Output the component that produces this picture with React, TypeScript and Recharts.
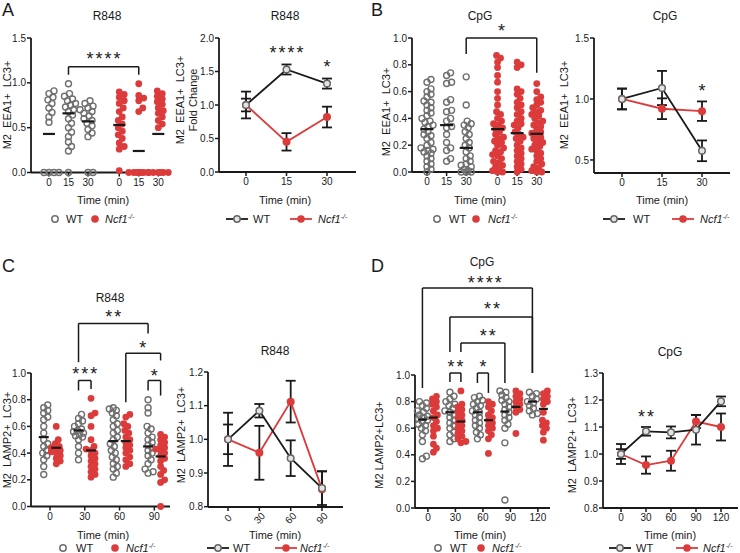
import React from 'react';
import { ScatterChart, Scatter, LineChart, Line, XAxis, YAxis, ErrorBar, ReferenceLine, ReferenceDot } from 'recharts';

const INK = '#1a1a1a';
const GREY = '#6f6f6f';
const RED = '#dc3b3b';
const FONT = "'Liberation Sans', Arial, sans-serif";

// ---- A: R848, EEA1+ LC3+ ----
const aTimes = ['0', '15', '30'];
const aWt0 = [0.91, 0.88, 0.84, 0.81, 0.77, 0.72, 0.67, 0.62, 0.56, 0, 0, 0, 0];
const aWt15 = [0.99, 0.88, 0.85, 0.82, 0.8, 0.77, 0.75, 0.73, 0.7, 0.68, 0.64, 0.6, 0.55, 0.5, 0.45, 0.4, 0.34, 0.29, 0.24, 0];
const aWt30 = [0.8, 0.77, 0.74, 0.72, 0.7, 0.68, 0.66, 0.63, 0.6, 0.58, 0.55, 0.52, 0.48, 0.44, 0.4, 0, 0];
const aKo0 = [0.9, 0.87, 0.84, 0.8, 0.77, 0.72, 0.68, 0.62, 0.58, 0.54, 0.5, 0.46, 0.42, 0.38, 0.33, 0.29, 0.26, 0.02];
const aKo15 = [0.99, 0.86, 0.83, 0.8, 0.72, 0.68, 0, 0, 0, 0, 0, 0, 0];
const aKo30 = [0.91, 0.88, 0.85, 0.82, 0.79, 0.76, 0.72, 0.69, 0.66, 0.62, 0.58, 0.54, 0.5, 0, 0, 0, 0, 0, 0];
const aWtMean = [0.43, 0.66, 0.57];
const aKoMean = [0.53, 0.24, 0.43];
const aFoldWt = [1.0, 1.53, 1.32];
const aFoldWtErr = [0.095, 0.075, 0.075];
const aFoldKo = [1.0, 0.45, 0.82];
const aFoldKoErr = [0.2, 0.13, 0.155];

// ---- B: CpG, EEA1+ LC3+ ----
const bTimes = ['0', '15', '30'];
const bWt0 = [0.69, 0.67, 0.62, 0.6, 0.58, 0.56, 0.53, 0.52, 0.5, 0.48, 0.46, 0.44, 0.42, 0.4, 0.38, 0.37, 0.35, 0.34, 0.32, 0.3, 0.28, 0.27, 0.25, 0.22, 0.2, 0.18, 0.17, 0.16, 0.15, 0.14, 0.12, 0.1, 0.08, 0.06, 0.04, 0.02, 0];
const bWt15 = [0.74, 0.72, 0.67, 0.66, 0.54, 0.52, 0.46, 0.45, 0.4, 0.38, 0.34, 0.33, 0.28, 0.22, 0.18, 0.16, 0.1, 0.08];
const bWt30 = [0.71, 0.5, 0.38, 0.36, 0.35, 0.33, 0.3, 0.28, 0.25, 0.22, 0.2, 0.18, 0.15, 0.12, 0.1, 0.08, 0.06, 0.05, 0.04, 0.02, 0.01, 0, 0, 0];
const bKo0 = [0.87, 0.85, 0.82, 0.78, 0.72, 0.67, 0.6, 0.55, 0.5, 0.45, 0.43, 0.4, 0.38, 0.36, 0.35, 0.33, 0.32, 0.3, 0.28, 0.26, 0.25, 0.23, 0.22, 0.2, 0.18, 0.16, 0.15, 0.13, 0.12, 0.1, 0.08, 0.07, 0.05, 0.04, 0.02, 0.01, 0, 0];
const bKo15 = [0.82, 0.8, 0.78, 0.62, 0.6, 0.58, 0.55, 0.52, 0.5, 0.48, 0.45, 0.43, 0.4, 0.38, 0.36, 0.35, 0.33, 0.3, 0.28, 0.26, 0.25, 0.23, 0.2, 0.18, 0.16, 0.14, 0.12, 0.1, 0.08, 0.06, 0.04, 0.02, 0];
const bKo30 = [0.66, 0.6, 0.56, 0.54, 0.52, 0.5, 0.48, 0.46, 0.45, 0.43, 0.42, 0.4, 0.38, 0.37, 0.35, 0.34, 0.32, 0.3, 0.29, 0.28, 0.26, 0.25, 0.23, 0.22, 0.2, 0.19, 0.17, 0.16, 0.14, 0.12, 0.1, 0.08, 0.06, 0.04, 0.03, 0.01, 0, 0];
const bWtMean = [0.32, 0.35, 0.18];
const bKoMean = [0.32, 0.29, 0.285];
const bFoldWt = [1.0, 1.09, 0.575];
const bFoldWtErr = [0.085, 0.14, 0.085];
const bFoldKo = [1.0, 0.92, 0.9];
const bFoldKoErr = [0.085, 0.085, 0.08];

// ---- C: R848, LAMP2+ LC3+ ----
const cTimes = ['0', '30', '60', '90'];
const cWt0 = [0.76, 0.74, 0.72, 0.7, 0.67, 0.65, 0.6, 0.55, 0.5, 0.47, 0.45, 0.42, 0.4, 0.38, 0.35, 0.3, 0.24];
const cWt30 = [0.69, 0.66, 0.64, 0.62, 0.6, 0.58, 0.57, 0.56, 0.55, 0.54, 0.53, 0.52, 0.5, 0.45, 0.4, 0.35];
const cWt60 = [0.74, 0.73, 0.72, 0.7, 0.68, 0.65, 0.62, 0.6, 0.57, 0.55, 0.52, 0.5, 0.47, 0.45, 0.42, 0.4, 0.37, 0.35, 0.32, 0.3, 0.28, 0.25, 0.22];
const cWt90 = [0.8, 0.74, 0.7, 0.6, 0.58, 0.55, 0.52, 0.5, 0.48, 0.46, 0.44, 0.42, 0.4, 0.38, 0.35, 0.32, 0.28, 0.26, 0.25];
const cKo0 = [0.6, 0.5, 0.47, 0.45, 0.44, 0.43, 0.42, 0.41, 0.4, 0.38, 0.36, 0.34, 0.32];
const cKo30 = [0.81, 0.7, 0.68, 0.6, 0.5, 0.45, 0.43, 0.42, 0.4, 0.38, 0.36, 0.34, 0.32, 0.3, 0.28, 0.26, 0.24, 0.22];
const cKo60 = [0.69, 0.67, 0.62, 0.6, 0.57, 0.55, 0.52, 0.5, 0.48, 0.46, 0.44, 0.42, 0.4, 0.37, 0.35, 0.32, 0.3];
const cKo90 = [0.54, 0.52, 0.5, 0.48, 0.46, 0.44, 0.43, 0.42, 0.4, 0.38, 0.36, 0.34, 0.3, 0.27, 0.24, 0.2, 0.18, 0];
const cWtMean = [0.52, 0.57, 0.49, 0.45];
const cKoMean = [0.44, 0.42, 0.49, 0.375];
const cFoldWt = [1.0, 1.085, 0.944, 0.855];
const cFoldWtErr = [0.044, 0.02, 0.053, 0.05];
const cFoldKo = [1.0, 0.96, 1.112, 0.852];
const cFoldKoErr = [0.079, 0.08, 0.062, 0.053];

// ---- D: CpG, LAMP2+ LC3+ ----
const dTimes = ['0', '30', '60', '90', '120'];
const dWt0 = [0.8, 0.79, 0.77, 0.75, 0.73, 0.72, 0.7, 0.69, 0.68, 0.67, 0.66, 0.65, 0.63, 0.62, 0.6, 0.58, 0.55, 0.5, 0.39, 0.37];
const dWt30 = [0.87, 0.84, 0.82, 0.8, 0.78, 0.77, 0.75, 0.73, 0.72, 0.7, 0.68, 0.66, 0.64, 0.62, 0.6, 0.57, 0.55, 0.52, 0.5];
const dWt60 = [0.84, 0.83, 0.81, 0.8, 0.78, 0.77, 0.75, 0.73, 0.72, 0.7, 0.68, 0.66, 0.64, 0.62, 0.6, 0.57, 0.55, 0.52];
const dWt90 = [0.88, 0.87, 0.85, 0.83, 0.81, 0.8, 0.78, 0.76, 0.74, 0.72, 0.7, 0.68, 0.66, 0.63, 0.6, 0.49, 0.06];
const dWt120 = [0.87, 0.86, 0.84, 0.82, 0.8, 0.79, 0.77, 0.75, 0.73, 0.71, 0.7];
const dKo0 = [0.84, 0.82, 0.8, 0.78, 0.76, 0.73, 0.7, 0.68, 0.65, 0.62, 0.6, 0.58, 0.54, 0.48, 0.45, 0.42];
const dKo30 = [0.88, 0.78, 0.76, 0.74, 0.72, 0.7, 0.68, 0.66, 0.64, 0.62, 0.6, 0.58, 0.56, 0.54, 0.52, 0.5, 0.49];
const dKo60 = [0.8, 0.78, 0.76, 0.73, 0.7, 0.68, 0.66, 0.64, 0.62, 0.6, 0.58, 0.55, 0.52, 0.41];
const dKo90 = [0.88, 0.86, 0.84, 0.82, 0.8, 0.78, 0.76, 0.74, 0.72, 0.56];
const dKo120 = [0.88, 0.86, 0.84, 0.82, 0.8, 0.78, 0.72, 0.66, 0.64, 0.62, 0.6, 0.57, 0.51];
const dWtMean = [0.665, 0.72, 0.72, 0.725, 0.8];
const dKoMean = [0.68, 0.65, 0.66, 0.76, 0.745];
const dFoldWt = [1.0, 1.084, 1.08, 1.09, 1.195];
const dFoldWtErr = [0.037, 0.016, 0.022, 0.055, 0.018];
const dFoldKo = [1.0, 0.959, 0.975, 1.12, 1.1];
const dFoldKoErr = [0.018, 0.032, 0.037, 0.024, 0.05];

type Box = { x0: number; x1: number; y0: number; y1: number };
type Seg = [number, number, number, number];
type Star = { x: number; y: number; text: string };
type Group = { x: number; vals: number[]; mean: number; ko: boolean };

const YW = 40;
const XH = 30;
const RM = 4;

const axisLine = { stroke: INK, strokeWidth: 1.8 };
const tickLine = { stroke: INK, strokeWidth: 1.5 };
const tickFont = { fontSize: 10, fill: INK };

function bracket(xa: number, xb: number, top: number, la: number, lb: number): Seg[] {
  return [[xa, la, xa, top], [xa, top, xb, top], [xb, top, xb, lb]];
}

// column scatter: pack points sideways (pixel space) so they don't pile up
function swarm(vals: number[], cx: number, pxX: number, pxY: number, d: number, maxW: number) {
  const placed: { o: number; py: number }[] = [];
  const cands = [0];
  for (let o = 1; o <= maxW; o++) cands.push(o, -o);
  return [...vals].sort((a, b) => a - b).map((v) => {
    const py = v * pxY;
    let best = 0;
    let bestD = -1;
    for (const o of cands) {
      let m = Infinity;
      for (const p of placed) m = Math.min(m, Math.hypot(p.o - o, p.py - py));
      if (m >= d) { best = o; break; }
      if (m > bestD) { bestD = m; best = o; }
    }
    placed.push({ o: best, py });
    return { x: cx + best / pxX, y: v };
  });
}

function frameOf(box: Box, top: number) {
  const w = box.x1 - box.x0;
  const h = box.y1 - box.y0;
  return {
    style: { position: 'absolute' as const, left: box.x0 - YW, top: box.y0 - top },
    width: w + YW + RM,
    height: h + top + XH,
    margin: { top, right: RM, bottom: 0, left: 0 },
  };
}

const starShape = (text: string) => (p: any) => (
  <text x={p.cx} y={p.cy + 10} dx={1} textAnchor="middle" fontSize={18} letterSpacing={2} fill={INK}>{text}</text>
);

type DotProps = {
  box: Box; top: number; xDomain: [number, number]; yDomain: [number, number]; yTicks: number[];
  xTicks: number[]; xLabels: string[]; groups: Group[]; segs: Seg[]; stars: Star[];
  r: number; d: number; maxW: number; hw: number;
};

function DotPanel(p: DotProps) {
  const f = frameOf(p.box, p.top);
  const pxX = (p.box.x1 - p.box.x0) / (p.xDomain[1] - p.xDomain[0]);
  const pxY = (p.box.y1 - p.box.y0) / (p.yDomain[1] - p.yDomain[0]);
  const wt = p.groups.filter((g) => !g.ko).flatMap((g) => swarm(g.vals, g.x, pxX, pxY, p.d, p.maxW));
  const ko = p.groups.filter((g) => g.ko).flatMap((g) => swarm(g.vals, g.x, pxX, pxY, p.d, p.maxW));
  const means = p.groups.map((g) => ({ x: g.x, y: g.mean }));
  return (
    <div style={f.style}>
      <ScatterChart width={f.width} height={f.height} margin={f.margin}>
        <XAxis type="number" dataKey="x" domain={p.xDomain} ticks={p.xTicks} interval={0} height={XH}
          tickFormatter={(v: number) => p.xLabels[p.xTicks.indexOf(v)]}
          axisLine={axisLine} tickLine={tickLine} tick={tickFont} tickSize={4} tickMargin={2} />
        <YAxis type="number" dataKey="y" domain={p.yDomain} ticks={p.yTicks} interval={0} width={YW}
          tickFormatter={(v: number) => v.toFixed(1)}
          axisLine={axisLine} tickLine={tickLine} tick={tickFont} tickSize={4} tickMargin={1} />
        {p.segs.map((s, i) => (
          <ReferenceLine key={'s' + i} segment={[{ x: s[0], y: s[1] }, { x: s[2], y: s[3] }]}
            stroke={INK} strokeWidth={1.5} ifOverflow="visible" />
        ))}
        <Scatter data={wt} isAnimationActive={false}
          shape={(q: any) => <circle cx={q.cx} cy={q.cy} r={p.r} fill="none" stroke={GREY} strokeWidth={1.4} />} />
        <Scatter data={ko} isAnimationActive={false}
          shape={(q: any) => <circle cx={q.cx} cy={q.cy} r={p.r + 0.4} fill={RED} />} />
        <Scatter data={means} isAnimationActive={false}
          shape={(q: any) => <line x1={q.cx - p.hw} x2={q.cx + p.hw} y1={q.cy} y2={q.cy} stroke={INK} strokeWidth={2.2} />} />
        {p.stars.map((s, i) => (
          <ReferenceDot key={'t' + i} x={s.x} y={s.y} r={1} ifOverflow="visible" shape={starShape(s.text)} />
        ))}
      </ScatterChart>
    </div>
  );
}

type LineProps = {
  box: Box; top: number; xDomain: [number, number]; yDomain: [number, number]; yTicks: number[];
  labels: string[]; wt: number[]; wtErr: number[]; ko: number[]; koErr: number[]; stars: Star[]; rotate?: boolean;
};

function LinePanel(p: LineProps) {
  const f = frameOf(p.box, p.top);
  const rows = p.labels.map((_, i) => ({ x: i, wt: p.wt[i], wtErr: p.wtErr[i], ko: p.ko[i], koErr: p.koErr[i] }));
  const xTicks = p.labels.map((_, i) => i);
  const rotTick = (q: any) => (
    <text x={q.x} y={q.y + 5} transform={`rotate(-45 ${q.x} ${q.y + 5})`} textAnchor="middle"
      dominantBaseline="central" fontSize={10} fill={INK}>{p.labels[q.payload.value]}</text>
  );
  return (
    <div style={f.style}>
      <LineChart width={f.width} height={f.height} margin={f.margin} data={rows}>
        <XAxis type="number" dataKey="x" domain={p.xDomain} ticks={xTicks} interval={0} height={XH}
          tickFormatter={(v: number) => p.labels[v]}
          axisLine={axisLine} tickLine={tickLine} tick={p.rotate ? rotTick : tickFont} tickSize={4} tickMargin={2} />
        <YAxis type="number" domain={p.yDomain} ticks={p.yTicks} interval={0} width={YW}
          tickFormatter={(v: number) => v.toFixed(1)}
          axisLine={axisLine} tickLine={tickLine} tick={tickFont} tickSize={4} tickMargin={1} />
        <Line dataKey="ko" stroke={RED} strokeWidth={1.8} isAnimationActive={false}
          dot={{ r: 4, fill: RED, stroke: RED, strokeWidth: 0 }} activeDot={false}>
          <ErrorBar dataKey="koErr" width={5} stroke={INK} strokeWidth={1.8} direction="y" />
        </Line>
        <Line dataKey="wt" stroke={INK} strokeWidth={1.8} isAnimationActive={false}
          dot={{ r: 3.3, fill: '#e4e4e4', stroke: '#666', strokeWidth: 1.5 }} activeDot={false}>
          <ErrorBar dataKey="wtErr" width={5} stroke={INK} strokeWidth={1.8} direction="y" />
        </Line>
        {p.stars.map((s, i) => (
          <ReferenceDot key={'t' + i} x={s.x} y={s.y} r={1} ifOverflow="visible" shape={starShape(s.text)} />
        ))}
      </LineChart>
    </div>
  );
}

function T({ x, y, s = 11, left = false, rot = false, children, st }: any) {
  const tx = left ? '0' : '-50%';
  return (
    <div style={{
      position: 'absolute', left: x, top: y, fontSize: s, lineHeight: 1, whiteSpace: 'pre',
      transform: `translate(${tx},-50%)${rot ? ' rotate(-90deg)' : ''}`, ...st,
    }}>{children}</div>
  );
}

const KoName = () => (
  <span style={{ fontStyle: 'italic' }}>Ncf1<span style={{ fontSize: 7, position: 'relative', top: -4 }}>-/-</span></span>
);

function Key({ x, y, kind, tx }: { x: number; y: number; kind: 'wd' | 'kd' | 'wl' | 'kl'; tx: number }) {
  const line = kind === 'wl' || kind === 'kl';
  const w = line ? 22 : 10;
  return (
    <>
      <svg width={w} height={10} style={{ position: 'absolute', left: x - w / 2, top: y - 5 }}>
        {line && <line x1={0} x2={w} y1={5} y2={5} stroke={kind === 'wl' ? INK : RED} strokeWidth={1.8} />}
        {(kind === 'wd' || kind === 'wl') && (
          <circle cx={w / 2} cy={5} r={3.2} fill={kind === 'wl' ? '#e4e4e4' : 'none'} stroke={kind === 'wl' ? '#666' : GREY} strokeWidth={1.5} />
        )}
        {(kind === 'kd' || kind === 'kl') && <circle cx={w / 2} cy={5} r={3.8} fill={RED} />}
      </svg>
      <T x={tx} y={y} left>{kind === 'wd' || kind === 'wl' ? 'WT' : <KoName />}</T>
    </>
  );
}

const dotTicks = [0, 1, 2, 3.6, 4.6, 5.6];
const split = (wts: number[][], kos: number[][], wm: number[], km: number[], off: number): Group[] => [
  ...wts.map((v, i) => ({ x: i - off, vals: v, mean: wm[i], ko: false })),
  ...kos.map((v, i) => ({ x: i + off, vals: v, mean: km[i], ko: true })),
];
const sideBySide = (wts: number[][], kos: number[][], wm: number[], km: number[]): Group[] => [
  ...wts.map((v, i) => ({ x: i, vals: v, mean: wm[i], ko: false })),
  ...kos.map((v, i) => ({ x: i + 3.6, vals: v, mean: km[i], ko: true })),
];

export default function App() {
  return (
    <div style={{ position: 'absolute', left: 0, top: 0, width: 740, height: 553, background: '#fff', fontFamily: FONT, color: INK, overflow: 'hidden' }}>
      {/* panel letters */}
      <T x={2} y={10} s={18} left>A</T>
      <T x={371} y={10} s={18} left>B</T>
      <T x={2} y={266} s={18} left>C</T>
      <T x={371} y={266} s={18} left>D</T>

      {/* A left */}
      <T x={107} y={16} s={12}>R848</T>
      <T x={7} y={105} rot>{'M2  EEA1+  LC3+'}</T>
      <DotPanel box={{ x0: 31, x1: 170, y0: 38, y1: 172.5 }} top={10} xDomain={[-0.92, 6.2]} yDomain={[0, 1.5]}
        yTicks={[0, 0.5, 1, 1.5]} xTicks={dotTicks} xLabels={[...aTimes, ...aTimes]}
        groups={sideBySide([aWt0, aWt15, aWt30], [aKo0, aKo15, aKo30], aWtMean, aKoMean)}
        segs={bracket(1, 4.6, 1.18, 1.09, 1.09)} stars={[{ x: 2.8, y: 1.31, text: '****' }]}
        r={3} d={5} maxW={10} hw={6} />
      <T x={103} y={200}>Time (min)</T>
      <Key x={55} y={219} kind="wd" tx={66} />
      <Key x={95} y={219} kind="kd" tx={105} />

      {/* A right */}
      <T x={285} y={16} s={12}>R848</T>
      <T x={180} y={100} rot>{'M2  EEA1+  LC3+'}</T>
      <T x={193} y={100} rot>Fold Change</T>
      <LinePanel box={{ x0: 219, x1: 356, y0: 38, y1: 172 }} top={10} xDomain={[-0.667, 2.716]} yDomain={[0, 2]}
        yTicks={[0, 0.5, 1, 1.5, 2]} labels={aTimes} wt={aFoldWt} wtErr={aFoldWtErr} ko={aFoldKo} koErr={aFoldKoErr}
        stars={[{ x: 1, y: 1.84, text: '****' }, { x: 2, y: 1.63, text: '*' }]} />
      <T x={285} y={200}>Time (min)</T>
      <Key x={237} y={219} kind="wl" tx={253} />
      <Key x={301} y={219} kind="kl" tx={318} />

      {/* B left */}
      <T x={480} y={16} s={12}>CpG</T>
      <T x={386} y={112} rot>{'M2  EEA1+  LC3+'}</T>
      <DotPanel box={{ x0: 412, x1: 550, y0: 37.5, y1: 171.5 }} top={24} xDomain={[-0.765, 6.276]} yDomain={[0, 1]}
        yTicks={[0, 0.2, 0.4, 0.6, 0.8, 1]} xTicks={dotTicks} xLabels={[...bTimes, ...bTimes]}
        groups={sideBySide([bWt0, bWt15, bWt30], [bKo0, bKo15, bKo30], bWtMean, bKoMean)}
        segs={bracket(2, 5.6, 1.0, 0.88, 0.74)} stars={[{ x: 3.8, y: 1.08, text: '*' }]}
        r={3} d={4.5} maxW={6} hw={6.5} />
      <T x={480} y={200}>Time (min)</T>
      <Key x={437} y={219} kind="wd" tx={449} />
      <Key x={476} y={219} kind="kd" tx={488} />

      {/* B right */}
      <T x={665} y={16} s={12}>CpG</T>
      <T x={564} y={105} rot>{'M2  EEA1+  LC3+'}</T>
      <LinePanel box={{ x0: 594, x1: 730, y0: 38, y1: 173 }} top={10} xDomain={[-0.7, 2.7]} yDomain={[0.393, 1.5]}
        yTicks={[0.5, 1, 1.5]} labels={bTimes} wt={bFoldWt} wtErr={bFoldWtErr} ko={bFoldKo} koErr={bFoldKoErr}
        stars={[{ x: 2, y: 1.1, text: '*' }]} />
      <T x={662} y={200}>Time (min)</T>
      <Key x={614} y={219} kind="wl" tx={633} />
      <Key x={683} y={219} kind="kl" tx={700} />

      {/* C left */}
      <T x={110} y={298} s={12}>R848</T>
      <T x={7} y={440} rot>{'M2  LAMP2+  LC3+'}</T>
      <DotPanel box={{ x0: 31, x1: 170, y0: 372.5, y1: 506 }} top={75} xDomain={[-0.546, 3.45]} yDomain={[0, 1]}
        yTicks={[0, 0.2, 0.4, 0.6, 0.8, 1]} xTicks={[0, 1, 2, 3]} xLabels={cTimes}
        groups={split([cWt0, cWt30, cWt60, cWt90], [cKo0, cKo30, cKo60, cKo90], cWtMean, cKoMean, 0.18)}
        segs={[
          ...bracket(0.82, 2.82, 1.371, 1.081, 1.296),
          ...bracket(2.18, 3.18, 1.148, 0.781, 1.094),
          ...bracket(0.82, 1.18, 0.944, 0.869, 0.88),
          ...bracket(2.82, 3.18, 0.944, 0.869, 0.831),
        ]}
        stars={[
          { x: 1.82, y: 1.446, text: '**' }, { x: 2.67, y: 1.22, text: '*' },
          { x: 1.0, y: 1.02, text: '***' }, { x: 3.0, y: 1.01, text: '*' },
        ]}
        r={3} d={4.5} maxW={5} hw={5} />
      <T x={103} y={535}>Time (min)</T>
      <Key x={63} y={548} kind="wd" tx={76} />
      <Key x={115} y={548} kind="kd" tx={126} />

      {/* C right */}
      <T x={275} y={351} s={12}>R848</T>
      <T x={181} y={435} rot>{'M2  LAMP2+  LC3+'}</T>
      <LinePanel box={{ x0: 208, x1: 343, y0: 372, y1: 507 }} top={10} xDomain={[-0.64, 3.67]} yDomain={[0.8, 1.2]}
        yTicks={[0.8, 0.9, 1, 1.1, 1.2]} labels={cTimes} wt={cFoldWt} wtErr={cFoldWtErr} ko={cFoldKo} koErr={cFoldKoErr}
        stars={[]} rotate />
      <T x={275} y={535}>Time (min)</T>
      <Key x={218} y={548} kind="wl" tx={233} />
      <Key x={286} y={548} kind="kl" tx={300} />

      {/* D left */}
      <T x={482} y={262} s={12}>CpG</T>
      <T x={379} y={445} rot>M2 LAMP2+LC3+</T>
      <DotPanel box={{ x0: 415, x1: 550, y0: 375, y1: 508 }} top={110} xDomain={[-0.47, 4.44]} yDomain={[0, 1]}
        yTicks={[0, 0.2, 0.4, 0.6, 0.8, 1]} xTicks={[0, 1, 2, 3, 4]} xLabels={dTimes}
        groups={split([dWt0, dWt30, dWt60, dWt90, dWt120], [dKo0, dKo30, dKo60, dKo90, dKo120], dWtMean, dKoMean, 0.2)}
        segs={[
          ...bracket(-0.2, 3.8, 1.654, 0.902, 1.015),
          ...bracket(0.8, 3.8, 1.436, 1.173, 1.015),
          ...bracket(1.2, 2.8, 1.24, 1.173, 0.94),
          ...bracket(0.8, 1.2, 1.015, 0.947, 0.947),
          ...bracket(1.8, 2.2, 1.015, 0.94, 0.865),
        ]}
        stars={[
          { x: 2.07, y: 1.72, text: '****' }, { x: 2.33, y: 1.53, text: '**' }, { x: 2.18, y: 1.32, text: '**' },
          { x: 1.0, y: 1.09, text: '**' }, { x: 2.0, y: 1.09, text: '*' },
        ]}
        r={3} d={4.5} maxW={5} hw={4.5} />
      <T x={480} y={535}>Time (min)</T>
      <Key x={438} y={548} kind="wd" tx={450} />
      <Key x={481} y={548} kind="kd" tx={492} />

      {/* D right */}
      <T x={670} y={352} s={12}>CpG</T>
      <T x={572} y={445} rot>{'M2  LAMP2+  LC3+'}</T>
      <LinePanel box={{ x0: 603, x1: 738, y0: 373, y1: 508 }} top={10} xDomain={[-0.72, 4.68]} yDomain={[0.8, 1.3]}
        yTicks={[0.8, 0.9, 1, 1.1, 1.2, 1.3]} labels={dTimes} wt={dFoldWt} wtErr={dFoldWtErr} ko={dFoldKo} koErr={dFoldKoErr}
        stars={[{ x: 1, y: 1.152, text: '**' }]} />
      <T x={670} y={535}>Time (min)</T>
      <Key x={620} y={548} kind="wl" tx={636} />
      <Key x={687} y={548} kind="kl" tx={703} />
    </div>
  );
}
